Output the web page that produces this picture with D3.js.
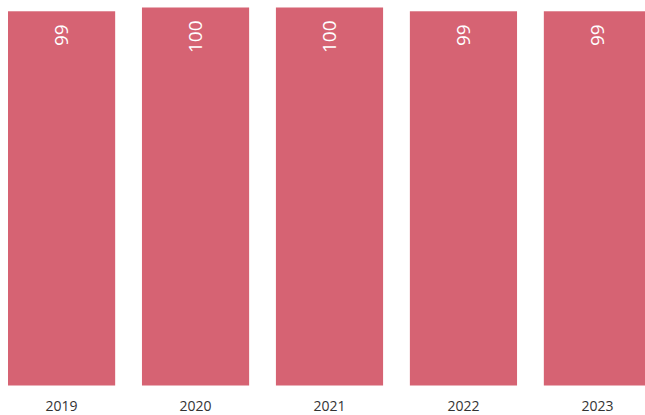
<!DOCTYPE html>
<html>
<head>
<meta charset="utf-8">
<script src="https://cdn.jsdelivr.net/npm/d3@7"></script>
<style>
  html, body { margin: 0; padding: 0; background: #fff; }
  svg { display: block; }
</style>
</head>
<body>
<svg id="chart" width="645" height="415"></svg>
<script>
// data
var years = ["2019", "2020", "2021", "2022", "2023"];
var values = [99, 100, 100, 99, 99];

var svg = d3.select("#chart");
var plotBottom = 385.5, plotTop = 7.5;

var x = d3.scaleBand()
    .domain(years)
    .range([8, 651])
    .paddingInner(0.2)
    .paddingOuter(0);

var y = d3.scaleLinear()
    .domain([0, 100])
    .range([plotBottom, plotTop]);

// bars
svg.selectAll("rect.bar")
    .data(values)
    .enter()
    .append("rect")
    .attr("class", "bar")
    .attr("x", function (d, i) { return x(years[i]); })
    .attr("y", function (d) { return y(d); })
    .attr("width", x.bandwidth())
    .attr("height", function (d) { return y(0) - y(d); })
    .attr("fill", "#d66373");

// value labels, rotated to read bottom-to-top, end near bar top
svg.selectAll("text.val")
    .data(values)
    .enter()
    .append("text")
    .attr("class", "val")
    .attr("transform", function (d, i) {
        var cx = x(years[i]) + x.bandwidth() / 2;
        return "translate(" + cx + "," + (y(d) + 13) + ") rotate(-90)";
    })
    .attr("text-anchor", "end")
    .attr("dy", "0.35em")
    .attr("fill", "#fff")
    .attr("font-family", "'Open Sans', sans-serif")
    .attr("font-size", 19)
    .text(function (d) { return d; });

// x axis labels
var axis = svg.append("g")
    .attr("transform", "translate(0," + plotBottom + ")")
    .call(d3.axisBottom(x).tickSize(0).tickPadding(16));
axis.select(".domain").remove();
axis.selectAll("text")
    .attr("fill", "#333")
    .attr("font-family", "'Open Sans', sans-serif")
    .attr("font-size", 14);
</script>
</body>
</html>
